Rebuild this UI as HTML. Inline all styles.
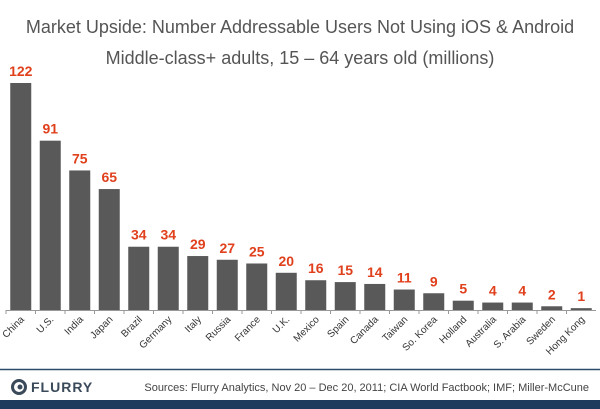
<!DOCTYPE html>
<html><head><meta charset="utf-8"><style>
body{margin:0;background:#fff;}
svg{display:block;font-family:"Liberation Sans",Arial,sans-serif;}
</style></head><body>
<svg id="c" width="600" height="409">
<text x="300" y="33" text-anchor="middle" font-size="18" fill="#555">Market Upside: Number Addressable Users Not Using iOS &amp; Android</text>
<text x="300" y="64" text-anchor="middle" font-size="18" fill="#555">Middle-class+ adults, 15 – 64 years old (millions)</text>
<g id="bars"></g>
<line x1="6" y1="310.5" x2="596" y2="310.5" stroke="#999"/>
<line x1="0" y1="369.5" x2="600" y2="369.5" stroke="#2a4a6e" stroke-width="1.5"/>
<g>
<circle cx="19" cy="387" r="6.5" fill="none" stroke="#3a4a5a" stroke-width="3"/>
<circle cx="20" cy="387" r="2.5" fill="#3a4a5a"/>
<text x="31" y="392" font-size="14" font-weight="bold" fill="#3a4a5a" letter-spacing="1">FLURRY</text>
</g>
<text x="589" y="391" text-anchor="end" font-size="11" fill="#444">Sources: Flurry Analytics, Nov 20 – Dec 20, 2011; CIA World Factbook; IMF; Miller-McCune</text>
<rect x="0" y="400" width="600" height="9" fill="#1e3a5c"/>
</svg>
<script>
const categories=["China","U.S.","India","Japan","Brazil","Germany","Italy","Russia","France","U.K.","Mexico","Spain","Canada","Taiwan","So. Korea","Holland","Australia","S. Arabia","Sweden","Hong Kong"];
const values=[122,91,75,65,34,34,29,27,25,20,16,15,14,11,9,5,4,4,2,1];
const x0=6,pitch=29.5,bw=21,base=310,scale=227/122;
const xc=i=>x0+pitch*i+pitch/2;
const y=v=>base-v*scale;
const g=document.getElementById('bars');
const ns='http://www.w3.org/2000/svg';
categories.forEach((c,i)=>{
 const r=document.createElementNS(ns,'rect');
 r.setAttribute('x',xc(i)-bw/2);r.setAttribute('y',y(values[i]));
 r.setAttribute('width',bw);r.setAttribute('height',base-y(values[i]));
 r.setAttribute('fill','#595959');
 
 
 g.appendChild(r);
 const t=document.createElementNS(ns,'text');
 t.setAttribute('x',xc(i));t.setAttribute('y',y(values[i])-7);
 t.setAttribute('text-anchor','middle');t.setAttribute('font-size','14');
 t.setAttribute('font-weight','bold');t.setAttribute('fill','#e0401c');
 t.textContent=values[i];
 
 
 g.appendChild(t);
 const tk=document.createElementNS(ns,'line');
 tk.setAttribute('x1',x0+pitch*i);tk.setAttribute('x2',x0+pitch*i);
 tk.setAttribute('y1',base);tk.setAttribute('y2',base+4);tk.setAttribute('stroke','#999');
 
 
 g.appendChild(tk);
 const l=document.createElementNS(ns,'text');
 const lx=xc(i)+4,ly=base+10;
 l.setAttribute('x',lx);l.setAttribute('y',ly);
 l.setAttribute('text-anchor','end');l.setAttribute('font-size','10');l.setAttribute('fill','#333');
 l.setAttribute('transform','rotate(-45 '+lx+' '+ly+')');
 l.textContent=c;
 
 
 g.appendChild(l);
});
</script>
</body></html>
